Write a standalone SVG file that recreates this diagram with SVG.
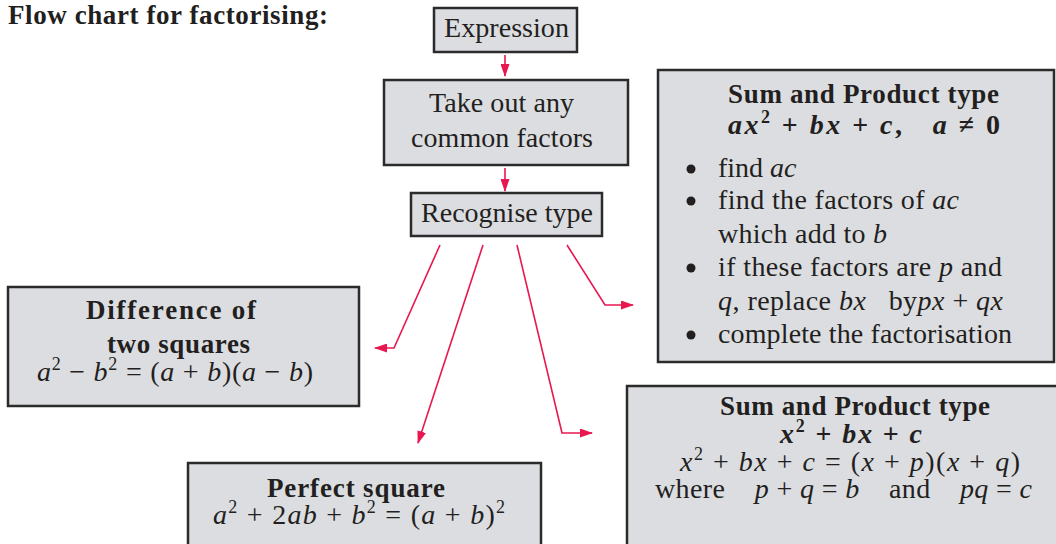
<svg xmlns="http://www.w3.org/2000/svg" width="1056" height="544" viewBox="0 0 1056 544">
<style>
text{font-family:"Liberation Serif","Times New Roman",serif;fill:#231f20;}
.b{font-size:28px;}
.h{font-size:27px;font-weight:bold;}
.m{font-size:28px;}
.i{font-style:italic;}
.bi{font-style:italic;font-weight:bold;}
.s{font-size:18px;}
.box{fill:#dcdde0;stroke:#2b2b2b;stroke-width:2.5;}
.c{fill:none;stroke:#e8174f;stroke-width:1.6;marker-end:url(#ah);}
</style>
<defs>
<marker id="ah" markerUnits="userSpaceOnUse" markerWidth="13" markerHeight="9" refX="12" refY="4.5" orient="auto"><path d="M0,0 L13,4.5 L0,9 z" fill="#e8174f"/></marker>
</defs>

<text class="h" x="8" y="24" font-size="27" textLength="320" lengthAdjust="spacing">Flow chart for factorising:</text>

<g id="connectors">
<path class="c" d="M505,55 L505,76"/>
<path class="c" d="M505,168 L505,191"/>
<path class="c" d="M440,245 L394,348 L375,348"/>
<path class="c" d="M483,245 L418,443"/>
<path class="c" d="M517,245 L562,433 L592,433"/>
<path class="c" d="M567,245 L605,305 L633,305"/>
</g>

<g id="expression">
<rect class="box" x="434" y="8" width="143" height="44"/>
<text class="b" x="506.5" y="37" text-anchor="middle" textLength="125" lengthAdjust="spacingAndGlyphs">Expression</text>
</g>

<g id="common-factors">
<rect class="box" x="384" y="80" width="244" height="85"/>
<text class="b" x="501.5" y="112" text-anchor="middle" textLength="145" lengthAdjust="spacing">Take out any</text>
<text class="b" x="502" y="147" text-anchor="middle" textLength="182" lengthAdjust="spacing">common factors</text>
</g>

<g id="recognise">
<rect class="box" x="411" y="193" width="191" height="43"/>
<text class="b" x="507" y="222" text-anchor="middle" textLength="172" lengthAdjust="spacing">Recognise type</text>
</g>

<g id="sum-product-general">
<rect class="box" x="658" y="70" width="396" height="292"/>
<text class="h" x="863.5" y="103" text-anchor="middle" textLength="271" lengthAdjust="spacing">Sum and Product type</text>
<text class="m" x="728" y="134" textLength="272" lengthAdjust="spacing"><tspan class="bi">ax</tspan><tspan class="s" font-weight="bold" dy="-11">2</tspan><tspan font-weight="bold" dy="11"> + </tspan><tspan class="bi">bx</tspan><tspan font-weight="bold"> + </tspan><tspan class="bi">c</tspan><tspan font-weight="bold">,&#160;&#160; </tspan><tspan class="bi">a</tspan><tspan font-weight="bold"> ≠ 0</tspan></text>
<circle cx="691" cy="169" r="4.5" fill="#231f20"/>
<circle cx="691" cy="201" r="4.5" fill="#231f20"/>
<circle cx="691" cy="268" r="4.5" fill="#231f20"/>
<circle cx="691" cy="335" r="4.5" fill="#231f20"/>
<text class="b" x="718" y="177">find <tspan class="i">ac</tspan></text>
<text class="b" x="718" y="209" textLength="241" lengthAdjust="spacing">find the factors of <tspan class="i">ac</tspan></text>
<text class="b" x="718" y="243" textLength="169" lengthAdjust="spacing">which add to <tspan class="i">b</tspan></text>
<text class="b" x="718" y="276" textLength="284" lengthAdjust="spacing">if these factors are <tspan class="i">p</tspan> and</text>
<text class="b" x="718" y="310" textLength="285" lengthAdjust="spacing"><tspan class="i">q</tspan>, replace <tspan class="i">bx</tspan>&#160;&#160; by<tspan class="i">px</tspan> + <tspan class="i">qx</tspan></text>
<text class="b" x="718" y="343" textLength="294" lengthAdjust="spacing">complete the factorisation</text>
</g>

<g id="difference-of-squares">
<rect class="box" x="8" y="287" width="351" height="119"/>
<text class="h" x="171" y="319" text-anchor="middle" textLength="170" lengthAdjust="spacing">Difference of</text>
<text class="h" x="178.5" y="353" text-anchor="middle" textLength="143" lengthAdjust="spacing">two squares</text>
<text class="m" x="37" y="381" textLength="276" lengthAdjust="spacing"><tspan class="i">a</tspan><tspan class="s" dy="-11">2</tspan><tspan dy="11"> − </tspan><tspan class="i">b</tspan><tspan class="s" dy="-11">2</tspan><tspan dy="11"> = (</tspan><tspan class="i">a</tspan> + <tspan class="i">b</tspan>)(<tspan class="i">a</tspan> − <tspan class="i">b</tspan>)</text>
</g>

<g id="perfect-square">
<rect class="box" x="188" y="463" width="353" height="90"/>
<text class="h" x="356" y="497" text-anchor="middle" textLength="178" lengthAdjust="spacing">Perfect square</text>
<text class="m" x="213" y="524" textLength="292" lengthAdjust="spacing"><tspan class="i">a</tspan><tspan class="s" dy="-11">2</tspan><tspan dy="11"> + 2</tspan><tspan class="i">ab</tspan> + <tspan class="i">b</tspan><tspan class="s" dy="-11">2</tspan><tspan dy="11"> = (</tspan><tspan class="i">a</tspan> + <tspan class="i">b</tspan>)<tspan class="s" dy="-11">2</tspan></text>
</g>

<g id="sum-product-simple">
<rect class="box" x="627" y="386" width="440" height="170"/>
<text class="h" x="855" y="415" text-anchor="middle" textLength="270" lengthAdjust="spacing">Sum and Product type</text>
<text class="m" x="780" y="443" textLength="142" lengthAdjust="spacing"><tspan class="bi">x</tspan><tspan class="s" font-weight="bold" dy="-11">2</tspan><tspan font-weight="bold" dy="11"> + </tspan><tspan class="bi">bx</tspan><tspan font-weight="bold"> + </tspan><tspan class="bi">c</tspan></text>
<text class="m" x="680" y="471" textLength="340" lengthAdjust="spacing"><tspan class="i">x</tspan><tspan class="s" dy="-11">2</tspan><tspan dy="11"> + </tspan><tspan class="i">bx</tspan> + <tspan class="i">c</tspan> = (<tspan class="i">x</tspan> + <tspan class="i">p</tspan>)(<tspan class="i">x</tspan> + <tspan class="i">q</tspan>)</text>
<text class="m" x="655" y="498" textLength="377" lengthAdjust="spacing">where&#160;&#160;&#160; <tspan class="i">p</tspan> + <tspan class="i">q</tspan> = <tspan class="i">b</tspan>&#160;&#160;&#160; and&#160;&#160;&#160; <tspan class="i">pq</tspan> = <tspan class="i">c</tspan></text>
</g>
</svg>
